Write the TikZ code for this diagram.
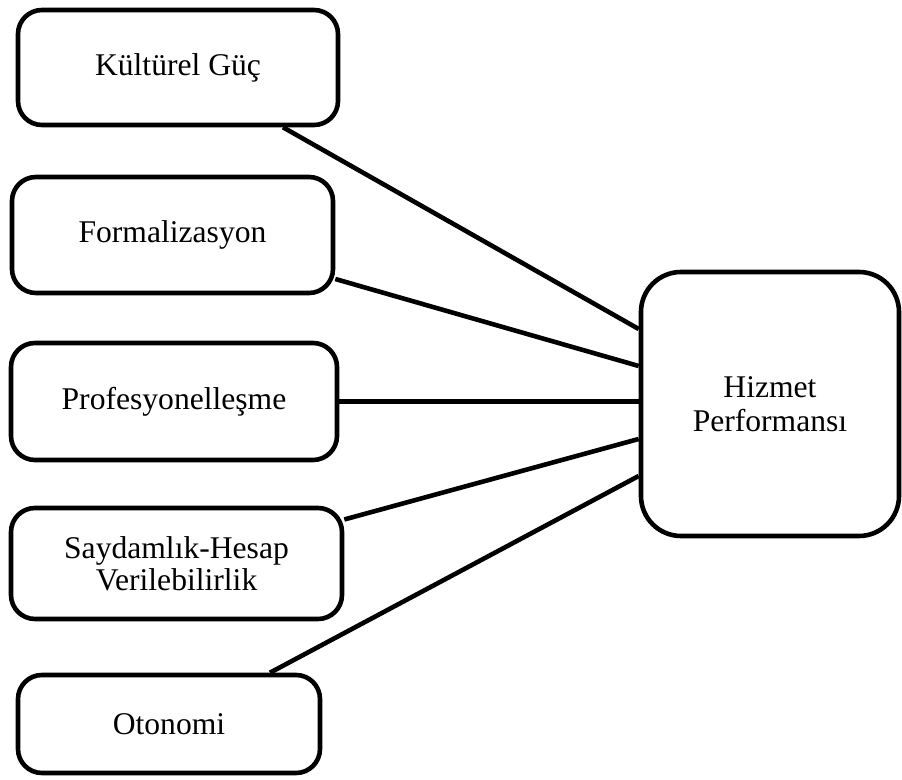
\documentclass[tikz,border=0pt]{standalone}
\usepackage{fontspec}
\setmainfont{Liberation Serif}
\usetikzlibrary{positioning}

\begin{document}
\begin{tikzpicture}[
    x=0.5pt, y=-0.5pt,
    box/.style={rectangle, draw, line width=2.3pt, rounded corners=12pt, align=center,
        font=\fontsize{15.8pt}{15.8pt}\selectfont},
    link/.style={draw, line width=2.3pt}
]
    \useasboundingbox (0,0) rectangle (902,780);

    % Nodes
    \node[box, minimum width=160pt, minimum height=57.5pt] (kultur) at (178,67.5) {Kültürel Güç};
    \node[box, minimum width=160.5pt, minimum height=58pt] (formal) at (172.5,235) {Formalizasyon};
    \node[box, minimum width=163pt, minimum height=58.5pt] (profes) at (174,401.5) {Profesyonelleşme};
    \node[box, minimum width=165.5pt, minimum height=55.5pt] (saydam) at (176.5,563.5) {Saydamlık-Hesap\\Verilebilirlik};
    \node[box, minimum width=151pt, minimum height=49pt] (otonomi) at (169,724) {Otonomi};
    \node[box, rounded corners=20pt, minimum width=129pt, minimum height=132pt,
        font=\fontsize{15.8pt}{16.8pt}\selectfont] (hizmet) at (770,404) {Hizmet\\Performansı};

    % Connections
    \path[link] ([xshift=52.5pt]kultur.south) -- ([yshift=37.5pt]hizmet.west);
    \path[link] ([yshift=-22pt]formal.east) -- ([yshift=19pt]hizmet.west);
    \path[link] (profes.east) -- (profes.east -| hizmet.west);
    \path[link] ([yshift=22pt]saydam.east) -- ([yshift=-17.5pt]hizmet.west);
    \path[link] ([xshift=50.5pt]otonomi.north) -- ([yshift=-36pt]hizmet.west);
\end{tikzpicture}
\end{document}
